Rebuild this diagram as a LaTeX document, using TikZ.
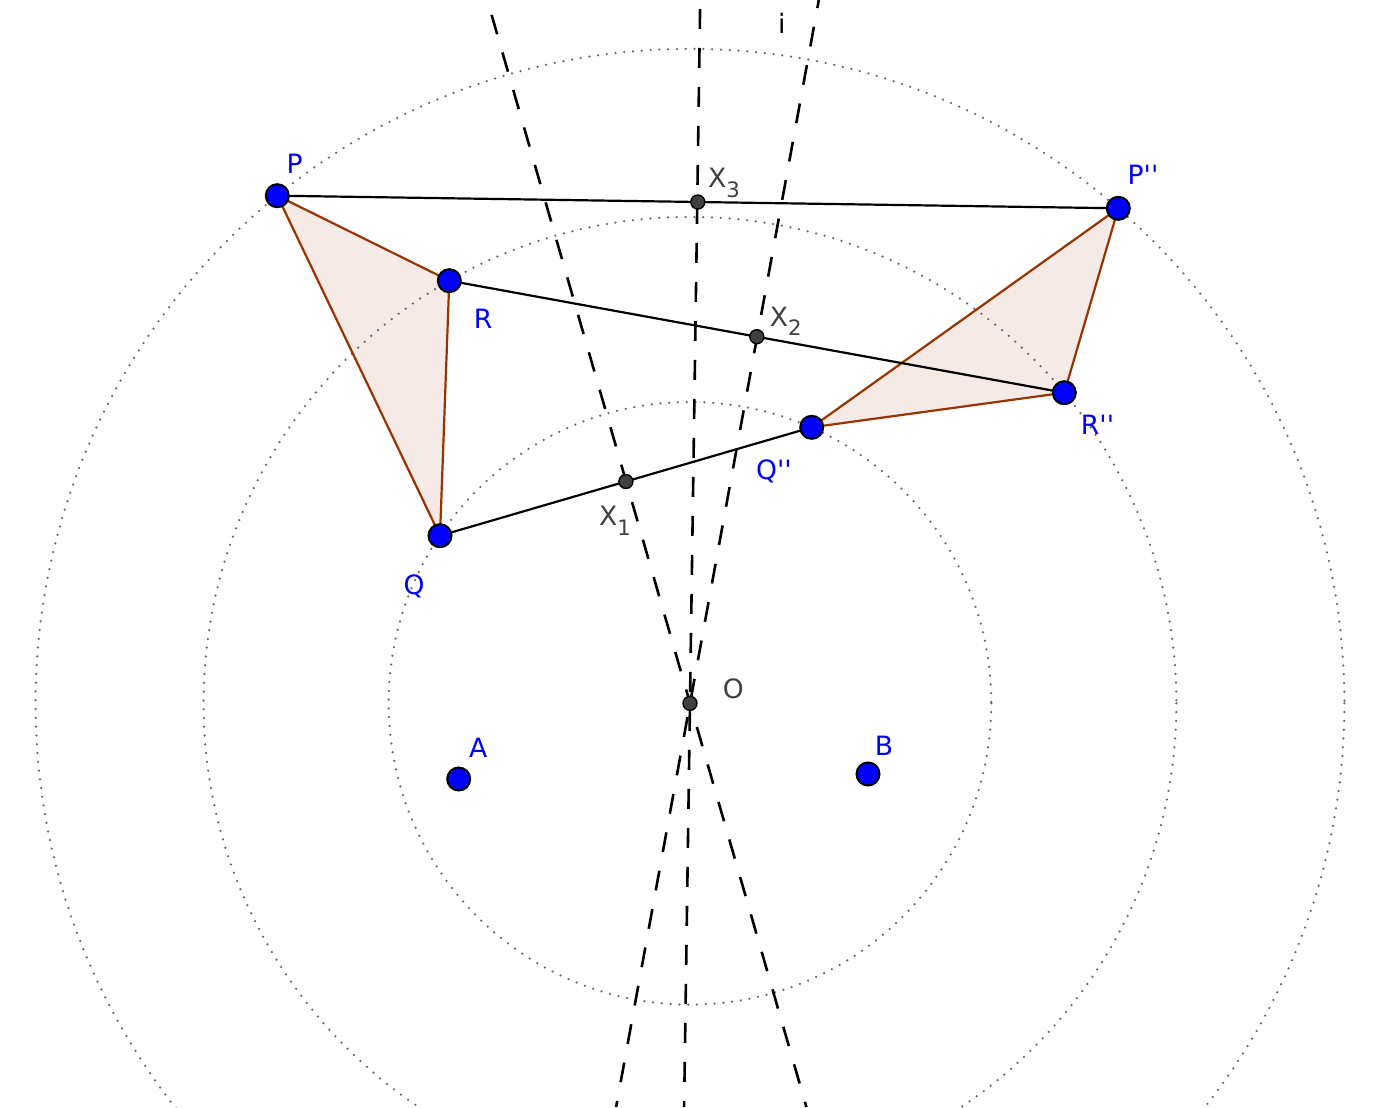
\documentclass[tikz,border=0pt]{standalone}
\usepackage{fontspec}
\newfontfamily\ggb{DejaVu Sans}[Ligatures=TeXOff]
\usetikzlibrary{calc}
\definecolor{ptblue}{RGB}{0,0,255}
\definecolor{brn}{RGB}{153,51,0}
\definecolor{dgray}{RGB}{64,64,64}
\definecolor{cgray}{RGB}{105,105,105}
\newcommand{\sub}[1]{\raisebox{-4.8pt}{\fontsize{10.6}{11}\selectfont #1}}
\begin{document}
\begin{tikzpicture}[x=0.5pt,y=-0.5pt,
  bluept/.style={circle,fill=ptblue,draw=black,line width=1pt,minimum size=11.5pt,inner sep=0pt},
  graypt/.style={circle,fill=dgray,draw=black,line width=0.7pt,minimum size=7pt,inner sep=0pt},
  lbl/.style={text=ptblue,font=\ggb\fontsize{13.3}{15}\selectfont,inner sep=0pt},
  glbl/.style={text=dgray,font=\ggb\fontsize{13.3}{15}\selectfont,inner sep=0pt,anchor=base west},
  orbit/.style={draw=cgray,line width=1.25pt,line cap=round,dash pattern=on 0pt off 4.4pt},
  dashline/.style={line width=1.3pt,dash pattern=on 10pt off 9.5pt},
  seg/.style={line width=1.1pt},
  tri/.style={draw=brn,line width=1.1pt,fill=brn,fill opacity=0.1,line join=round}]
\useasboundingbox (0,0) rectangle (1390,1107);
\clip (0,0) rectangle (1390,1107);
% points
\coordinate (O) at (690,703.3);
\coordinate (P) at (277.3,195.7);
\coordinate (R) at (449.3,280.7);
\coordinate (Q) at (440,535.7);
\coordinate (P2) at (1118.3,208.3);
\coordinate (R2) at (1064.3,392.7);
\coordinate (Q2) at (811.7,427.3);
\coordinate (A) at (458.7,779);
\coordinate (B) at (868,774);
\coordinate (X3) at (697.8,202);
\coordinate (X2) at (756.8,336.7);
\coordinate (X1) at (625.9,481.5);
% dashed line ends
\coordinate (L1a) at (487.3,0);
\coordinate (L1b) at (806.4,1107);
\coordinate (L2a) at (700.2,0);
\coordinate (L2b) at (684.1,1107);
\coordinate (L3a) at (818.8,0);
\coordinate (L3b) at (616.1,1107);
% circles
\draw[orbit] (O) circle[radius=654.4];
\draw[orbit] (O) circle[radius=486.4];
\draw[orbit] (O) circle[radius=301.3];
% dashed lines
\draw[dashline,dash phase=11.7pt] (L1a) -- (L1b);
\draw[dashline,dash phase=15pt] (L2a) -- (L2b);
\draw[dashline,dash phase=5.9pt] (L3a) -- (L3b);
% triangles
\draw[tri] (P) -- (R) -- (Q) -- cycle;
\draw[tri] (P2) -- (R2) -- (Q2) -- cycle;
% segments
\draw[seg] (P) -- (P2);
\draw[seg] (R) -- (R2);
\draw[seg] (Q) -- (Q2);
% point marks
\foreach \p in {P,R,Q,P2,R2,Q2,A,B}{\node[bluept] (\p dot) at (\p) {};}
\foreach \p in {X1,X2,X3,O}{\node[graypt] (\p dot) at (\p) {};}
% labels
\node[lbl] (Plbl) at (294.7,164.2) {P};
\node[lbl] (Rlbl) at (483,319) {R};
\node[lbl] (Qlbl) at (414,586) {Q};
\node[lbl] (P2lbl) at (1143,175) {P''};
\node[lbl] (R2lbl) at (1097.5,425) {R''};
\node[lbl] (Q2lbl) at (774,471) {Q''};
\node[lbl] (Albl) at (478.3,747.5) {A};
\node[lbl] (Blbl) at (884,745.7) {B};
\node[glbl,anchor=center] (Olbl) at (733.3,688.8) {O};
\node[glbl] (X3lbl) at (707.8,187.7) {X\sub{3}};
\node[glbl] (X2lbl) at (769.5,326) {X\sub{2}};
\node[glbl] (X1lbl) at (598.8,525.7) {X\sub{1}};
\node[lbl,text=black] (ilbl) at (781.7,23.5) {i};
\end{tikzpicture}
\end{document}
